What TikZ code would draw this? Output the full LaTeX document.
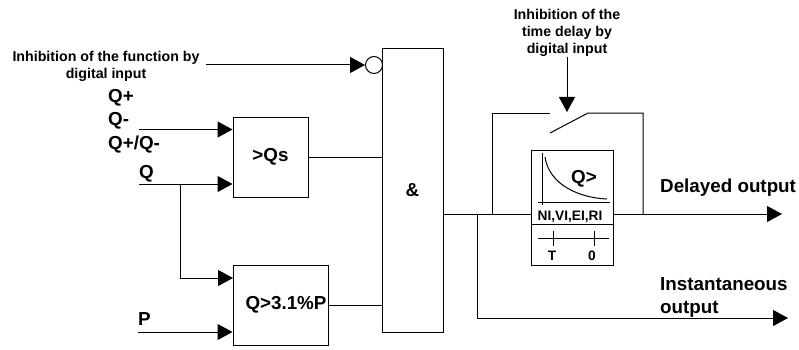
\documentclass[tikz,border=0pt]{standalone}
\usepackage{fontspec}
\setmainfont{Liberation Sans}
\usetikzlibrary{arrows.meta,positioning}

\begin{document}
\begin{tikzpicture}[x=1pt,y=-1pt]
\tikzset{
  block/.style={draw,line width=1pt,inner sep=0pt,font=\bfseries\fontsize{18.8}{22}\selectfont},
  biglabel/.style={inner sep=0pt,align=left,font=\bfseries\fontsize{18.8}{23}\selectfont},
  smalllabel/.style={inner sep=0pt,align=center,font=\bfseries\fontsize{14.2}{17}\selectfont},
  tinylabel/.style={inner sep=0pt,align=center,font=\bfseries\fontsize{13.7}{16}\selectfont},
  directed/.style={-{Triangle[length=15pt,width=16pt]},line width=1pt},
  wire/.style={line width=1pt}
}
\useasboundingbox (0,0) rectangle (799,350);
% blocks
\node[block,minimum width=75pt,minimum height=80pt] (n_qs) at (270.5,157) {>Qs};
\node[block,minimum width=95pt,minimum height=80pt] (n_qp) at (280.5,305) {};
\node[block,minimum width=61pt,minimum height=283pt] (n_and) at (412.5,190.5) {\&};
\node[block,minimum width=82pt,minimum height=115pt] (n_delay) at (572,207.5) {};
\node[draw,line width=1pt,circle,minimum size=17pt,inner sep=0pt] (n_not) at (374,65) {};
% labels
\node[smalllabel] (l_inh) at (106,66) {Inhibition of the function by\\digital input};
\node[smalllabel] (l_time) at (567,33) {Inhibition of the\\time delay by\\digital input};
\node[biglabel,anchor=west] (l_qplus) at (108,98) {Q+};
\node[biglabel,anchor=west] (l_qminus) at (108,121) {Q-};
\node[biglabel,anchor=west] (l_qboth) at (108,145) {Q+/Q-};
\node[biglabel,anchor=west] (l_q) at (139,174) {Q};
\node[biglabel,anchor=west] (l_p) at (138,319) {P};
\node[biglabel,anchor=west] (l_del) at (660,188) {Delayed output};
\node[biglabel,anchor=west] (l_inst) at (660,297) {Instantaneous\\output};
\node[block,draw=none] (l_limit) at (286,305) {Q>3.1\%P};
\node[block,draw=none] (l_qgt) at (584,179) {Q>};
\node[tinylabel] (l_curve) at (570,217) {NI,VI,EI,RI};
\node[tinylabel] (l_t) at (552,256) {T};
\node[tinylabel] (l_zero) at (592,256) {0};
% free ends
\coordinate (c_inh) at (206,65);
\coordinate (c_q1) at (139,129.5);
\coordinate (c_q2) at (139,184);
\coordinate (c_branch) at (180,184);
\coordinate (c_p) at (138,332);
\coordinate (c_split) at (477,214);
\coordinate (c_left) at (492,214);
\coordinate (c_right) at (643,214);
\coordinate (c_out1) at (782,214);
\coordinate (c_out2) at (788,318);
\coordinate (c_ctrl) at (567,57);
\coordinate (c_sw1) at (550,133);
\coordinate (c_sw2) at (588,113);
\coordinate (c_stop) at (567,112);
\coordinate (c_div1) at (531,224);
\coordinate (c_div2) at (613,224);
% inputs
\draw[directed] (c_inh) -- (n_not.west);
\draw[directed] (c_q1) -- (c_q1 -| n_qs.west);
\draw[directed] (c_q2) -- (c_q2 -| n_qs.west);
\draw[directed] (c_branch) |- (233,278);
\draw[directed] (c_p) -- (c_p -| n_qp.west);
\draw[wire] (n_qs.east) -- (n_qs.east -| n_and.west);
\draw[wire] (n_qp.east) -- (n_qp.east -| n_and.west);
% outputs
\draw[wire] (c_split -| n_and.east) -- (c_split -| n_delay.west);
\draw[directed] (c_split -| n_delay.east) -- (c_out1);
\draw[directed] (c_split) |- (c_out2);
% bypass with switch
\draw[wire] (c_left) |- (c_sw1 |- c_sw2);
\draw[wire] (c_sw1) -- (c_sw2) -- (c_sw2 -| c_right) -- (c_right);
\draw[directed] (c_ctrl) -- (c_stop);
% inside the delay block
\draw[wire] (c_div1) -- (c_div2);
\draw[wire] (542,153) -- (542,205);
\draw[wire] (538,202) -- (610,202);
\draw[wire] (545,157) .. controls (549,185) and (580,198) .. (607,199);
\draw[wire] (538,238) -- (609,238);
\draw[wire] (553,231) -- (553,246);
\draw[wire] (594,231) -- (594,246);
\end{tikzpicture}
\end{document}
